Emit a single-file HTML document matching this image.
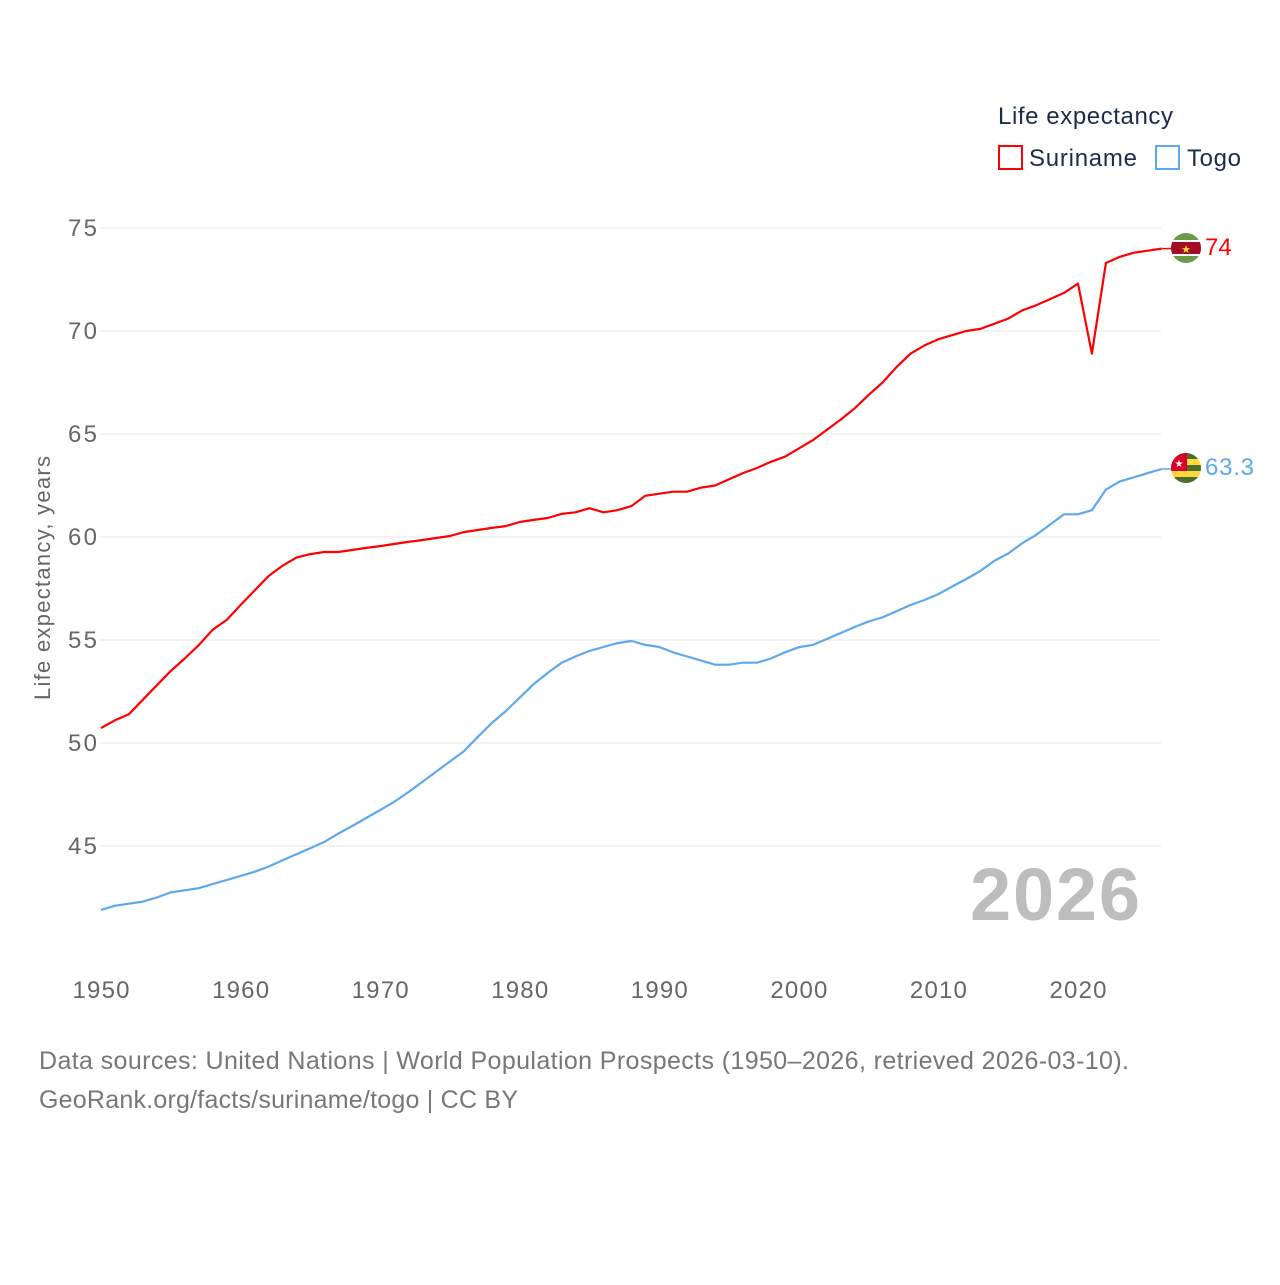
<!DOCTYPE html>
<html><head><meta charset="utf-8"><style>
body{margin:0;background:#fff;}
svg text{font-family:"Liberation Sans",sans-serif;}
</style></head><body>
<svg id="chart" width="1280" height="1280" viewBox="0 0 1280 1280" xmlns="http://www.w3.org/2000/svg">
<rect width="1280" height="1280" fill="#fff"/>
<g id="grid"></g>
<g id="lines"></g>
<text transform="translate(50,578) rotate(-90)" text-anchor="middle" font-size="22" fill="#666" textLength="244">Life expectancy, years</text>
<text x="1140" y="920" text-anchor="end" font-size="74" font-weight="bold" fill="#bdbdbd" textLength="170">2026</text>
<text x="998" y="124" font-size="24" fill="#1d2b4a" textLength="175">Life expectancy</text>
<g><rect x="999" y="146" width="23" height="23" fill="none" stroke="#f00" stroke-width="2"/><text x="1029" y="166" font-size="24" fill="#1d2b4a" textLength="108">Suriname</text></g>
<g><rect x="1156" y="146" width="23" height="23" fill="none" stroke="#5ea8ee" stroke-width="2"/><text x="1187" y="166" font-size="24" fill="#1d2b4a" textLength="54">Togo</text></g>
<defs>
<clipPath id="c1"><circle cx="1186" cy="248" r="15"/></clipPath>
<clipPath id="c2"><circle cx="1186" cy="468" r="15"/></clipPath>
</defs>
<g clip-path="url(#c1)">
<rect x="1171" y="233" width="30" height="30" fill="#6a9a4a"/>
<rect x="1171" y="240" width="30" height="16" fill="#fff"/>
<rect x="1171" y="242" width="30" height="12" fill="#a30c24"/>
<text x="1186" y="253" text-anchor="middle" font-size="11" fill="#f8d83a">★</text>
</g>
<g clip-path="url(#c2)">
<rect x="1171" y="453" width="30" height="30" fill="#ffd93b"/>
<rect x="1171" y="453" width="30" height="6" fill="#496e2d"/>
<rect x="1171" y="465" width="30" height="6" fill="#496e2d"/>
<rect x="1171" y="477" width="30" height="6" fill="#496e2d"/>
<rect x="1171" y="453" width="16" height="18" fill="#d80027"/>
<text x="1179" y="467" text-anchor="middle" font-size="10" fill="#fff">★</text>
</g>
<text x="1205" y="255" font-size="24" fill="#f00">74</text>
<text x="1205" y="475" font-size="24" fill="#5ea8ee" textLength="49">63.3</text>
<text x="39" y="1069" font-size="25" fill="#777" textLength="1090">Data sources: United Nations | World Population Prospects (1950–2026, retrieved 2026-03-10).</text>
<text x="39" y="1108" font-size="25" fill="#777" textLength="479">GeoRank.org/facts/suriname/togo | CC BY</text>
</svg>
<script>
const years=[];for(let y=1950;y<=2026;y++)years.push(y);
const suriname=[50.73,51.1,51.4,52.1,52.8,53.5,54.1,54.75,55.5,55.97,56.7,57.4,58.1,58.6,59.0,59.17,59.27,59.27,59.37,59.47,59.56,59.66,59.76,59.85,59.95,60.05,60.24,60.34,60.44,60.53,60.73,60.83,60.92,61.12,61.2,61.4,61.2,61.3,61.5,62.0,62.1,62.2,62.2,62.4,62.5,62.8,63.1,63.35,63.65,63.9,64.3,64.7,65.2,65.7,66.25,66.9,67.5,68.25,68.9,69.3,69.6,69.8,70.0,70.1,70.35,70.6,71.0,71.25,71.55,71.85,72.3,68.9,73.3,73.6,73.8,73.9,74.0];
const togo=[41.9,42.1,42.2,42.3,42.5,42.75,42.85,42.95,43.15,43.35,43.55,43.75,44.0,44.3,44.6,44.9,45.2,45.6,45.97,46.36,46.75,47.14,47.6,48.1,48.6,49.1,49.6,50.3,50.97,51.55,52.2,52.86,53.4,53.9,54.2,54.47,54.66,54.85,54.95,54.76,54.66,54.4,54.2,54.0,53.8,53.8,53.9,53.9,54.1,54.4,54.65,54.76,55.05,55.34,55.63,55.9,56.1,56.4,56.7,56.94,57.23,57.6,57.96,58.35,58.84,59.2,59.7,60.1,60.6,61.1,61.1,61.3,62.3,62.7,62.9,63.1,63.3];
const yTicks=[45,50,55,60,65,70,75];
const xTicks=[1950,1960,1970,1980,1990,2000,2010,2020];
const NS='http://www.w3.org/2000/svg';
const xS=y=>101+(y-1950)*13.957;
const yS=v=>228+(75-v)*20.6;
const grid=document.getElementById('grid'),lines=document.getElementById('lines');
function mk(t,a,p){const e=document.createElementNS(NS,t);for(const k in a)e.setAttribute(k,a[k]);p.appendChild(e);return e;}
yTicks.forEach(v=>{
 const l=mk('line',{x1:100,x2:1161,y1:yS(v),y2:yS(v),stroke:'#e6e6e6','stroke-width':1},grid);
 
 
 const t=mk('text',{x:97,y:yS(v)+8,'text-anchor':'end','font-size':24,fill:'#666',textLength:29},grid);
 t.textContent=v;
 
 
});
xTicks.forEach(v=>{
 const t=mk('text',{x:xS(v),y:998,'text-anchor':'middle','font-size':24,fill:'#666',textLength:57},grid);
 t.textContent=v;
 
 
});
function draw(vals,color,name){
 const d=vals.map((v,i)=>(i?'L':'M')+xS(years[i]).toFixed(1)+','+yS(v).toFixed(1)).join('');
 const p=mk('path',{d:d,fill:'none',stroke:color,'stroke-width':2.2,'stroke-linejoin':'round'},lines);
 
 
 const last=vals[vals.length-1];
 const c=mk('line',{x1:xS(2026),x2:1172,y1:yS(last),y2:yS(last),stroke:color,'stroke-width':1.5},lines);
 
 
}
draw(suriname,'#f00','suriname-line');
draw(togo,'#5ea8ee','togo-line');
</script>
</body></html>
